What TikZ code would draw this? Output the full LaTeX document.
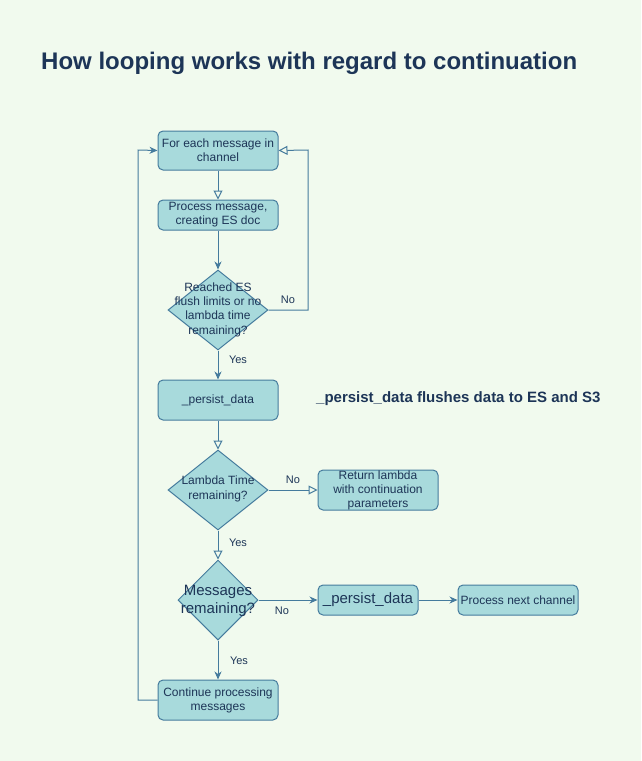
\documentclass[tikz,border=0pt]{standalone}
\usepackage{fontspec}
\setmainfont{Liberation Sans}
\usetikzlibrary{arrows.meta,shapes.geometric}
\definecolor{bgc}{HTML}{F1FAEE}
\definecolor{fillc}{HTML}{A8DADC}
\definecolor{linec}{HTML}{457B9D}
\definecolor{txtc}{HTML}{1D3557}
\tikzset{
  boxnode/.style={draw=linec, fill=fillc, rounded corners=5pt, line width=1pt, text=txtc,
    inner sep=0pt, align=center, font=\fontsize{12}{14}\selectfont},
  dmd/.style={draw=linec, fill=fillc, shape=diamond, line width=1pt, inner sep=0pt},
  dtext/.style={text=txtc, align=center, inner sep=0pt, font=\fontsize{12}{14.4}\selectfont},
  lbl/.style={text=txtc, inner sep=0pt, font=\fontsize{11}{13}\selectfont},
  conn/.style={draw=linec, line width=1pt},
  openarr/.style={conn, -{Triangle[open, length=9pt, width=9pt, fill=bgc]}},
  fillarr/.style={conn, -{Stealth[length=8pt, width=7pt, inset=2.5pt]}},
}
\begin{document}
\begin{tikzpicture}[x=1pt,y=-1pt]
\fill[bgc] (0,0) rectangle (641,761);
\useasboundingbox (0,0) rectangle (641,761);

\node[anchor=base west, text=txtc, inner sep=0pt, font=\fontsize{24}{28}\selectfont\bfseries] (title) at (41,69) {How looping works with regard to continuation};

\node[boxnode, minimum width=120pt, minimum height=39pt] (b1) at (218,150.5) {For each message in\\channel};
\node[boxnode, minimum width=120pt, minimum height=30pt] (b2) at (218,215) {Process message,\\creating ES doc};
\node[dmd, minimum width=100pt, minimum height=80pt] (d1) at (218,310) {};
\node[dtext] (d1t) at (218,309.5) {Reached ES\\flush limits or no\\lambda time\\remaining?};
\node[boxnode, minimum width=120pt, minimum height=40pt] (b3) at (218,400) {\_persist\_data};
\node[anchor=base west, text=txtc, inner sep=0pt, font=\fontsize{15}{18}\selectfont\bfseries] (note) at (316,402) {\_persist\_data flushes data to ES and S3};
\node[dmd, minimum width=100pt, minimum height=80pt] (d2) at (218,490) {};
\node[dtext] (d2t) at (218,489) {Lambda Time\\remaining?};
\node[boxnode, minimum width=120pt, minimum height=40pt] (b4) at (378,490) {Return lambda\\with continuation\\parameters};
\node[dmd, minimum width=80pt, minimum height=80pt] (d3) at (218,600) {};
\node[dtext, font=\fontsize{15}{17.5}\selectfont] (d3t) at (218,601) {Messages\\remaining?};
\node[boxnode, minimum width=100pt, minimum height=30pt, font=\fontsize{15}{18}\selectfont] (b5) at (368,600) {\_persist\_data};
\node[boxnode, minimum width=120pt, minimum height=30pt] (b6) at (518,600) {Process next channel};
\node[boxnode, minimum width=120pt, minimum height=40pt] (b7) at (218,700) {Continue processing\\messages};

\coordinate (c1) at (308,310);
\coordinate (c2) at (308,150);
\coordinate (c3) at (138,700);
\coordinate (c4) at (138,150);

\draw[openarr] (b1) -- (b2);
\draw[fillarr] (b2) -- (d1.north);
\draw[openarr] (d1.east) -- (c1) -- (c2) -- (b1.east);
\draw[fillarr] (d1.south) -- (b3);
\draw[openarr] (b3) -- (d2.north);
\draw[openarr] (d2.east) -- (b4.west);
\draw[openarr] (d2.south) -- (d3.north);
\draw[fillarr] (d3.east) -- (b5.west);
\draw[fillarr] (b5) -- (b6);
\draw[fillarr] (d3.south) -- (b7);
\draw[fillarr] (b7.west) -- (c3) -- (c4) -- (b1.west);

\node[lbl] (l1) at (288,300) {No};
\node[lbl] (l2) at (238,360) {Yes};
\node[lbl] (l3) at (293,480) {No};
\node[lbl] (l4) at (238,543) {Yes};
\node[lbl] (l5) at (282,611) {No};
\node[lbl] (l6) at (239,661) {Yes};
\end{tikzpicture}
\end{document}
